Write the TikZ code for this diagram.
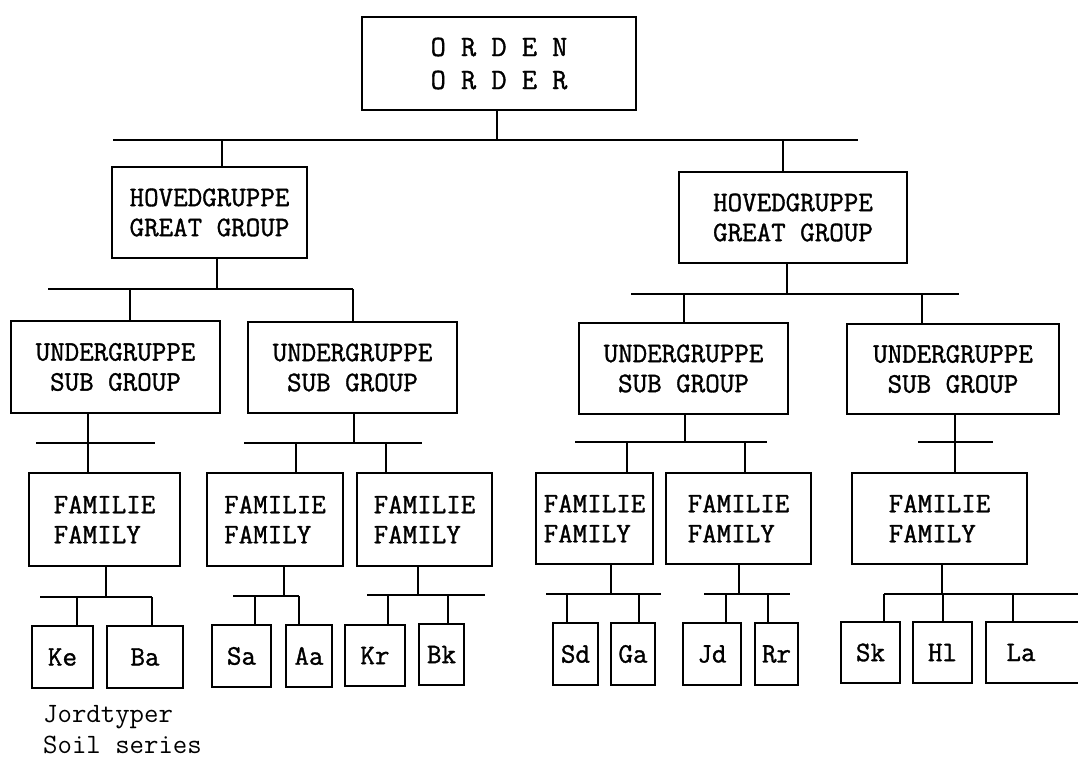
\documentclass[tikz,border=0pt]{standalone}
\usepackage{fontspec}
\newfontfamily\boxf[FakeBold=1.2]{Latin Modern Mono}
\newfontfamily\legf{Latin Modern Mono}
\newcommand\bxfont{\boxf\fontsize{28.2}{30}\selectfont}
\begin{document}
\begin{tikzpicture}[x=1pt,y=-1pt,
  box/.style={draw,line width=2pt,rectangle,inner sep=0pt,align=center,font=\bxfont},
  fam/.style={box,align=left},
  conn/.style={line width=2pt}]
\useasboundingbox (0,0) rectangle (1078,758);
\clip (0,0) rectangle (1078,758);
% boxes: center, width, height
\node[box,minimum width=274,minimum height=93,font=\boxf\fontsize{29.5}{33}\selectfont] (ord) at (499,63.5) {O R D E N\\O R D E R};
\node[box,minimum width=195,minimum height=91] (h1) at (209.5,212.5) {HOVEDGRUPPE\\GREAT GROUP};
\node[box,minimum width=228,minimum height=91] (h2) at (793,217.5) {HOVEDGRUPPE\\GREAT GROUP};
\node[box,minimum width=209,minimum height=92] (u1) at (115.5,367) {UNDERGRUPPE\\SUB GROUP};
\node[box,minimum width=209,minimum height=91] (u2) at (352.5,367.5) {UNDERGRUPPE\\SUB GROUP};
\node[box,minimum width=209,minimum height=91] (u3) at (683.5,368.5) {UNDERGRUPPE\\SUB GROUP};
\node[box,minimum width=212,minimum height=90] (u4) at (953,369) {UNDERGRUPPE\\SUB GROUP};
\node[fam,minimum width=151,minimum height=93] (f1) at (104.5,519.5) {FAMILIE\\FAMILY};
\node[fam,minimum width=136,minimum height=93] (f2) at (275,519.5) {FAMILIE\\FAMILY};
\node[fam,minimum width=135,minimum height=93] (f3) at (424.5,519.5) {FAMILIE\\FAMILY};
\node[fam,minimum width=117,minimum height=91] (f4) at (594.5,518.5) {FAMILIE\\FAMILY};
\node[fam,minimum width=145,minimum height=91] (f5) at (738.5,518.5) {FAMILIE\\FAMILY};
\node[fam,minimum width=175,minimum height=91] (f6) at (939.5,518.5) {FAMILIE\\FAMILY};
\node[box,minimum width=61,minimum height=62] (ke) at (62.5,657) {Ke};
\node[box,minimum width=76,minimum height=62] (ba) at (145,657) {Ba};
\node[box,minimum width=59,minimum height=62] (sa) at (241.5,656) {Sa};
\node[box,minimum width=46,minimum height=62] (aa) at (309,656) {Aa};
\node[box,minimum width=60,minimum height=61] (kr) at (375,655.5) {Kr};
\node[box,minimum width=45,minimum height=61] (bk) at (441.5,654.5) {Bk};
\node[box,minimum width=45,minimum height=62] (sd) at (575.5,654) {Sd};
\node[box,minimum width=44,minimum height=62] (ga) at (633,654) {Ga};
\node[box,minimum width=58,minimum height=62] (jd) at (712,654) {Jd};
\node[box,minimum width=43,minimum height=62] (rr) at (776.5,654) {Rr};
\node[box,minimum width=59,minimum height=61] (sk) at (870.5,652.5) {Sk};
\node[box,minimum width=59,minimum height=61] (hl) at (942.5,652.5) {Hl};
\node[box,minimum width=114,minimum height=61] (la) at (1043,652.5) {La\hspace*{44pt}};
\node[anchor=west,align=left,inner sep=0pt,font=\legf\fontsize{28}{31}\selectfont] (legend) at (43,730) {Jordtyper\\Soil series};
% bus coordinates
\coordinate (b0L) at (113,140);   \coordinate (b0R) at (858,140);
\coordinate (b1L) at (48,289);    \coordinate (b1R) at (353,289);
\coordinate (b2L) at (631,294);   \coordinate (b2R) at (959,294);
\coordinate (b3L) at (36,443);    \coordinate (b3R) at (155,443);
\coordinate (b4L) at (244,443);   \coordinate (b4R) at (422,443);
\coordinate (b5L) at (575,442);   \coordinate (b5R) at (767,442);
\coordinate (b6L) at (918,442);   \coordinate (b6R) at (993,442);
\coordinate (b7L) at (40,597);    \coordinate (b7R) at (152,597);
\coordinate (b8L) at (233,596);   \coordinate (b8R) at (299,596);
\coordinate (b9L) at (367,595);   \coordinate (b9R) at (485,595);
\coordinate (b10L) at (546,594);  \coordinate (b10R) at (661,594);
\coordinate (b11L) at (704,594);  \coordinate (b11R) at (790,594);
\coordinate (b12L) at (884,594);  \coordinate (b12R) at (1090,594);
\begin{scope}[conn]
% order
\draw ([xshift=-2pt]ord.south) -- ([xshift=-2pt]ord.south |- b0L);
\draw (b0L) -- (b0R);
\draw ([xshift=12.5pt]h1.north) -- ([xshift=12.5pt]h1.north |- b0L);
\draw ([xshift=-10pt]h2.north) -- ([xshift=-10pt]h2.north |- b0L);
% h1
\draw ([xshift=7.5pt]h1.south) -- ([xshift=7.5pt]h1.south |- b1L);
\draw (b1L) -- (b1R);
\draw ([xshift=14.5pt]u1.north) -- ([xshift=14.5pt]u1.north |- b1L);
\draw (u2.north) -- (u2.north |- b1L);
% h2
\draw ([xshift=-6pt]h2.south) -- ([xshift=-6pt]h2.south |- b2L);
\draw (b2L) -- (b2R);
\draw (u3.north) -- (u3.north |- b2L);
\draw ([xshift=-31pt]u4.north) -- ([xshift=-31pt]u4.north |- b2L);
% u1
\draw ([xshift=-27.5pt]u1.south) -- ([xshift=-27.5pt]u1.south |- b3L);
\draw (b3L) -- (b3R);
\draw ([xshift=-16.5pt]f1.north) -- ([xshift=-16.5pt]f1.north |- b3L);
% u2
\draw ([xshift=1.5pt]u2.south) -- ([xshift=1.5pt]u2.south |- b4L);
\draw (b4L) -- (b4R);
\draw ([xshift=21pt]f2.north) -- ([xshift=21pt]f2.north |- b4L);
\draw ([xshift=-38.5pt]f3.north) -- ([xshift=-38.5pt]f3.north |- b4L);
% u3
\draw ([xshift=1.5pt]u3.south) -- ([xshift=1.5pt]u3.south |- b5L);
\draw (b5L) -- (b5R);
\draw ([xshift=32.5pt]f4.north) -- ([xshift=32.5pt]f4.north |- b5L);
\draw ([xshift=6.5pt]f5.north) -- ([xshift=6.5pt]f5.north |- b5L);
% u4
\draw ([xshift=2pt]u4.south) -- ([xshift=2pt]u4.south |- b6L);
\draw (b6L) -- (b6R);
\draw ([xshift=15.5pt]f6.north) -- ([xshift=15.5pt]f6.north |- b6L);
% f1
\draw ([xshift=1.5pt]f1.south) -- ([xshift=1.5pt]f1.south |- b7L);
\draw (b7L) -- (b7R);
\draw ([xshift=14.5pt]ke.north) -- ([xshift=14.5pt]ke.north |- b7L);
\draw ([xshift=7pt]ba.north) -- ([xshift=7pt]ba.north |- b7L);
% f2
\draw ([xshift=9pt]f2.south) -- ([xshift=9pt]f2.south |- b8L);
\draw (b8L) -- (b8R);
\draw ([xshift=13.5pt]sa.north) -- ([xshift=13.5pt]sa.north |- b8L);
\draw ([xshift=-10pt]aa.north) -- ([xshift=-10pt]aa.north |- b8L);
% f3
\draw ([xshift=-6.5pt]f3.south) -- ([xshift=-6.5pt]f3.south |- b9L);
\draw (b9L) -- (b9R);
\draw ([xshift=13pt]kr.north) -- ([xshift=13pt]kr.north |- b9L);
\draw ([xshift=6.5pt]bk.north) -- ([xshift=6.5pt]bk.north |- b9L);
% f4
\draw ([xshift=16.5pt]f4.south) -- ([xshift=16.5pt]f4.south |- b10L);
\draw (b10L) -- (b10R);
\draw ([xshift=-8.5pt]sd.north) -- ([xshift=-8.5pt]sd.north |- b10L);
\draw ([xshift=6pt]ga.north) -- ([xshift=6pt]ga.north |- b10L);
% f5
\draw (f5.south) -- (f5.south |- b11L);
\draw (b11L) -- (b11R);
\draw ([xshift=14pt]jd.north) -- ([xshift=14pt]jd.north |- b11L);
\draw ([xshift=-8.5pt]rr.north) -- ([xshift=-8.5pt]rr.north |- b11L);
% f6
\draw ([xshift=2.5pt]f6.south) -- ([xshift=2.5pt]f6.south |- b12L);
\draw (b12L) -- (b12R);
\draw ([xshift=13.5pt]sk.north) -- ([xshift=13.5pt]sk.north |- b12L);
\draw (hl.north) -- (hl.north |- b12L);
\draw ([xshift=-30pt]la.north) -- ([xshift=-30pt]la.north |- b12L);
\end{scope}
\end{tikzpicture}
\end{document}
